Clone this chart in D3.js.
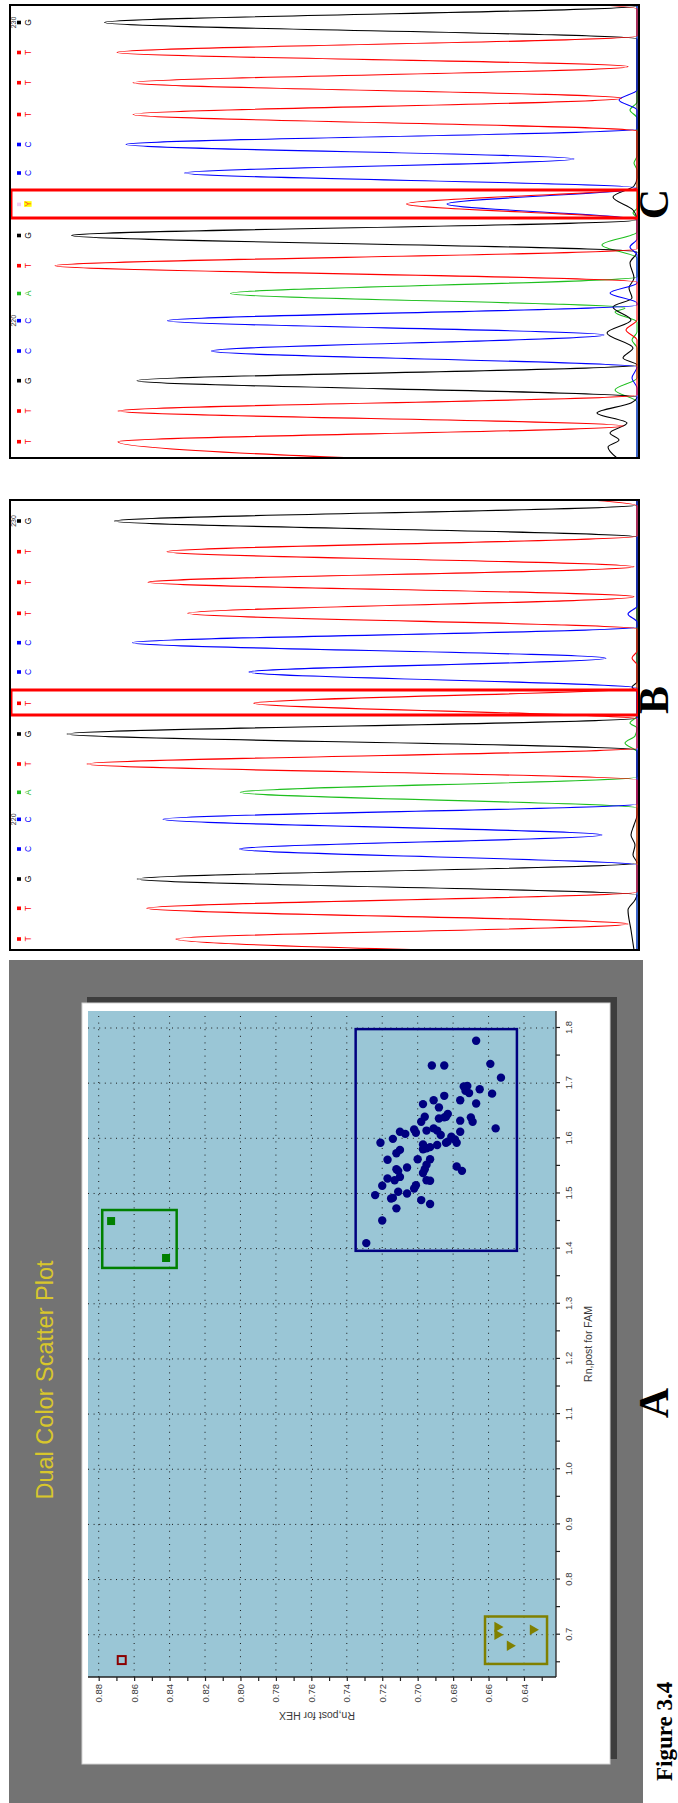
<!DOCTYPE html>
<html>
<head>
<meta charset="utf-8">
<script src="https://cdn.jsdelivr.net/npm/d3@7"></script>
<style>
body { margin: 0; background: #fff; }
svg { display: block; }
text { font-family: "Liberation Sans", Arial, sans-serif; }
text.serif { font-family: "Liberation Serif", "Times New Roman", serif; font-weight: bold; }
</style>
</head>
<body>
<svg id="fig" width="678" height="1803"></svg>
<script>
// ---------- panel A : dual colour scatter plot (Rn,post FAM vs HEX) ----------
const famTicks = [0.7, 0.8, 0.9, 1.0, 1.1, 1.2, 1.3, 1.4, 1.5, 1.6, 1.7, 1.8];
const famMinor = [0.65, 0.75, 0.85, 0.95, 1.05, 1.15, 1.25, 1.35, 1.45, 1.55, 1.65, 1.75];
const hexTicks = [0.64, 0.66, 0.68, 0.70, 0.72, 0.74, 0.76, 0.78, 0.80, 0.82, 0.84, 0.86, 0.88];
const hexMinor = [0.63, 0.65, 0.67, 0.69, 0.71, 0.73, 0.75, 0.77, 0.79, 0.81, 0.83, 0.85, 0.87];

// [FAM, HEX]
const allele1Pts = [
  [1.777,0.667],[1.732,0.692],[1.732,0.685],[1.735,0.659],[1.710,0.653],
  [1.694,0.674],[1.695,0.672],[1.686,0.673],[1.682,0.671],[1.689,0.665],
  [1.681,0.658],[1.677,0.685],[1.669,0.691],[1.669,0.676],[1.662,0.697],
  [1.663,0.667],[1.656,0.688],[1.639,0.696],[1.630,0.698],[1.636,0.688],
  [1.638,0.685],[1.644,0.683],[1.639,0.684],[1.632,0.676],[1.638,0.670],
  [1.630,0.669],[1.618,0.656],[1.612,0.710],[1.608,0.707],[1.616,0.702],
  [1.610,0.701],[1.614,0.695],[1.618,0.691],[1.614,0.689],[1.606,0.687],
  [1.612,0.676],[1.599,0.714],[1.592,0.721],[1.603,0.681],[1.598,0.679],
  [1.592,0.678],[1.592,0.684],[1.594,0.683],[1.589,0.697],[1.582,0.695],
  [1.584,0.693],[1.588,0.689],[1.580,0.697],[1.579,0.710],[1.573,0.712],
  [1.561,0.717],[1.562,0.700],[1.562,0.693],[1.547,0.706],[1.544,0.712],
  [1.552,0.695],[1.549,0.678],[1.541,0.675],[1.530,0.710],[1.527,0.717],
  [1.514,0.720],[1.524,0.713],[1.537,0.697],[1.524,0.695],[1.523,0.693],
  [1.515,0.701],[1.509,0.702],[1.503,0.711],[1.500,0.706],[1.497,0.724],
  [1.492,0.714],[1.491,0.715],[1.488,0.698],[1.481,0.693],[1.473,0.712],
  [1.451,0.720],[1.410,0.729],[1.544,0.696],[1.541,0.711]
];
const allele2Pts = [[1.450,0.873],[1.383,0.842]];
const undeterminedPts = [[0.714,0.655],[0.700,0.655],[0.680,0.648],[0.709,0.635]];
const ntcPts = [[0.654,0.867]];

// cluster boxes: [famMin, famMax, hexMin, hexMax]
const allele1Box = [1.396, 1.798, 0.644, 0.735];
const allele2Box = [1.365, 1.470, 0.836, 0.878];
const undetBox = [0.647, 0.733, 0.627, 0.662];

// ---------- panels B and C : sequence traces, [scan, signal] ----------
const bBases = ["T","T","G","C","C","A","T","G","T","C","C","T","T","T","G"];
const bBasePos = [11,41.7,71,101,130.7,157.7,186,216,246.7,278,307.3,336.7,367.7,398.3,429];
const bBaseNums = [[130.7,"220"],[429,"230"]];
const bHighlight = [235, 260];
const bTraceG = [[0,3],[20,6],[40,9],[50,2],[55,0],[71,499.8],[87,0],[95,4],[105,2],[115,6],[125,3],[135,0],[200,0],[216,570],[232,0],[258,0],[263,5],[268,0],[413,0],[429,522.7],[445,0],[453,0]];
const bTraceA = [[0,0],[142,0],[157.7,396.7],[173,0],[198,0],[207,12],[214,2],[222,0],[227,7],[234,0],[453,0]];
const bTraceT = [[-5,0],[11,461],[26,9],[41.7,490.3],[58,0],[170,0],[186,550],[202,0],[231,0],[246.7,383.3],[262,0],[285,0],[292,5],[299,0],[321,0],[336.7,449.3],[353.3,3],[367.7,489],[383.3,3],[398.3,470],[414,0],[444,0],[466,480]];
const bTraceC = [[0,0],[85,0],[101,397.6],[115,35],[130.7,474],[146,0],[262,0],[278,388],[291.7,31],[307.3,504.6],[323,0],[328,0],[336,9],[344,0],[453,0]];

const cBases = ["T","T","G","C","C","A","T","G","Y","C","C","T","T","T","G"];
const cBasePos = [16.3,47,77.3,107,137.3,164.5,192.3,222.5,254,285,313.5,343.5,375.3,405.5,435.5];
const cBaseNums = [[137.3,"220"],[435.5,"230"]];
const cHighlight = [240, 268];
const cTraceG = [[0,20],[11,29],[18,18],[25,27],[35,10],[45,40],[55,6],[61,0],[77.3,500],[93,0],[100,14],[110,4],[125,30],[138,6],[151,24],[160,5],[170,8],[180,3],[195,7],[206,0],[222.5,565.5],[238,0],[248,4],[261,24],[272,3],[280,0],[419,0],[435.5,532.5],[452,0],[460,0]];
const cTraceA = [[0,0],[56,0],[68,22],[80,0],[110,0],[118,5],[126,0],[136,0],[146,22],[150,12],[164.5,406.5],[181,0],[200,0],[213,35],[226,0],[240,0],[245,4],[250,0],[288,0],[295,3],[302,0],[340,0],[348,7],[356,0],[453,0]];
const cTraceT = [[-10,0],[16.3,519],[32,13.6],[47,519],[63,0],[118,0],[128,11],[138,0],[176,0],[192.3,582],[209,0],[238,0],[254,230.5],[270,0],[327,0],[343.5,504],[359.7,15.5],[375.3,504],[391.3,9],[405.5,520],[422,0],[449,0],[466,500]];
const cTraceC = [[0,0],[70,0],[80,5],[91,0],[107,425.6],[123,33],[137.3,469.6],[153,0],[155,0],[165,27],[175,0],[203,0],[211,7],[219,0],[238,0],[254,190],[270,0],[285,452.5],[299,63],[313.5,511],[329,0],[348,0],[358,18],[368,0],[453,0]];

const panelLetters = [["A", 400], ["B", 1103], ["C", 1599]];

const baseColor = { A: "#1fbf1f", C: "#0000ff", G: "#000000", T: "#ff0000", Y: "#ff4a2a" };

// the whole figure is laid out landscape and turned a quarter to the left
const svg = d3.select("#fig");
const g = svg.append("g").attr("transform", "translate(0,1803) rotate(-90)");

// ================= panel A =================
g.append("rect").attr("x", 0).attr("y", 9).attr("width", 843).attr("height", 634).attr("fill", "#737373");
g.append("rect").attr("x", 44).attr("y", 87).attr("width", 762).attr("height", 530).attr("fill", "#3d3d3d");
g.append("rect").attr("x", 39).attr("y", 82).attr("width", 761).attr("height", 528)
  .attr("fill", "#fff").attr("stroke", "#d4d4d4").attr("stroke-width", 1);

g.append("text").attr("x", 423).attr("y", 53).attr("text-anchor", "middle")
  .attr("font-size", 23.5).attr("fill", "#d8c62c").text("Dual Color Scatter Plot");

const plotL = 126, plotR = 792, plotT = 88, plotB = 556;
const fam = d3.scaleLinear().domain([0.7, 1.8]).range([168.3, 775]);
const hex = d3.scaleLinear().domain([0.64, 0.88]).range([524, 98.7]);

g.append("rect").attr("x", plotL).attr("y", plotT).attr("width", plotR - plotL).attr("height", plotB - plotT)
  .attr("fill", "#9ac6d6");

// dotted grid
g.append("g").selectAll("line").data(famTicks).join("line")
  .attr("x1", d => fam(d)).attr("x2", d => fam(d)).attr("y1", plotT).attr("y2", plotB)
  .attr("stroke", "#1a1a1a").attr("stroke-width", 1).attr("stroke-dasharray", "1,4.6");
g.append("g").selectAll("line").data(hexTicks).join("line")
  .attr("x1", plotL).attr("x2", plotR).attr("y1", d => hex(d)).attr("y2", d => hex(d))
  .attr("stroke", "#1a1a1a").attr("stroke-width", 1).attr("stroke-dasharray", "1,5.6");

// axes
function styleAxis(sel) {
  sel.select(".domain").remove();
  sel.selectAll(".tick line").attr("stroke", "#222").attr("stroke-width", 1.2);
  sel.selectAll(".tick text").attr("fill", "#3a3a3a").attr("font-size", 9.5);
}
g.append("g").attr("transform", `translate(0,${plotB})`)
  .call(d3.axisBottom(fam).tickValues(famMinor).tickSize(4).tickFormat(""))
  .call(styleAxis);
g.append("g").attr("transform", `translate(0,${plotB})`)
  .call(d3.axisBottom(fam).tickValues(famTicks).tickSize(4).tickPadding(5).tickFormat(d3.format(".1f")))
  .call(styleAxis);
g.append("g").attr("transform", `translate(${plotL},0)`)
  .call(d3.axisLeft(hex).tickValues(hexMinor).tickSize(4).tickFormat(""))
  .call(styleAxis);
g.append("g").attr("transform", `translate(${plotL},0)`)
  .call(d3.axisLeft(hex).tickValues(hexTicks).tickSize(4).tickPadding(3).tickFormat(d3.format(".2f")))
  .call(styleAxis);
g.append("line").attr("x1", plotL).attr("x2", plotR).attr("y1", plotB).attr("y2", plotB)
  .attr("stroke", "#222").attr("stroke-width", 1.3);
g.append("line").attr("x1", plotL).attr("x2", plotL).attr("y1", plotT).attr("y2", plotB)
  .attr("stroke", "#222").attr("stroke-width", 1.3);

g.append("text").attr("x", (plotL + plotR) / 2).attr("y", 592).attr("text-anchor", "middle")
  .attr("font-size", 10.5).attr("fill", "#3a3a3a").text("Rn,post for FAM");
g.append("text").attr("transform", "translate(91,317) rotate(-90)").attr("text-anchor", "middle")
  .attr("font-size", 10.5).attr("fill", "#3a3a3a").text("Rn,post for HEX");

// cluster boxes
function clusterBox(b, color) {
  g.append("rect").attr("x", fam(b[0])).attr("y", hex(b[3]))
    .attr("width", fam(b[1]) - fam(b[0])).attr("height", hex(b[2]) - hex(b[3]))
    .attr("fill", "none").attr("stroke", color).attr("stroke-width", 2.5);
}
clusterBox(allele1Box, "#000080");
clusterBox(allele2Box, "#008000");
clusterBox(undetBox, "#808000");

// markers
g.append("g").selectAll("circle").data(allele1Pts).join("circle")
  .attr("cx", d => fam(d[0])).attr("cy", d => hex(d[1])).attr("r", 4.2).attr("fill", "#000080");
g.append("g").selectAll("rect").data(allele2Pts).join("rect")
  .attr("x", d => fam(d[0]) - 4).attr("y", d => hex(d[1]) - 4).attr("width", 8).attr("height", 8)
  .attr("fill", "#008000");
g.append("g").selectAll("path").data(undeterminedPts).join("path")
  .attr("d", d3.symbol(d3.symbolTriangle, 48))
  .attr("transform", d => `translate(${fam(d[0])},${hex(d[1])}) rotate(180)`)
  .attr("fill", "#808000");
g.append("g").selectAll("rect").data(ntcPts).join("rect")
  .attr("x", d => fam(d[0]) - 4).attr("y", d => hex(d[1]) - 4).attr("width", 8).attr("height", 8)
  .attr("fill", "none").attr("stroke", "#8b0000").attr("stroke-width", 2);

// ================= panels B and C =================
const sig = d3.scaleLinear().domain([0, 627]).range([637, 10]);

function drawTrace(id, u0, u1, traces, bases, basePos, baseNums, hi) {
  const pos = d3.scaleLinear().domain([0, u1 - u0]).range([u0, u1]);
  const p = g.append("g");
  p.append("clipPath").attr("id", id).append("rect")
    .attr("x", u0).attr("y", 10).attr("width", u1 - u0).attr("height", 629);
  const line = d3.line().x(d => pos(d[0])).y(d => sig(d[1])).curve(d3.curveMonotoneX);
  const tg = p.append("g").attr("clip-path", `url(#${id})`);
  traces.forEach(t => {
    tg.append("path").attr("d", line(t.data)).attr("fill", "none")
      .attr("stroke", baseColor[t.base]).attr("stroke-width", 1.1);
  });

  // base calls
  bases.forEach((b, i) => {
    const x = pos(basePos[i]);
    if (b === "Y") {
      p.append("rect").attr("x", x - 2.2).attr("y", 17).attr("width", 3.6).attr("height", 4).attr("fill", "#f2cdf2");
      p.append("rect").attr("x", x - 2.8).attr("y", 24).attr("width", 5.6).attr("height", 7.6).attr("fill", "#ffff00");
    } else {
      p.append("rect").attr("x", x - 1.8).attr("y", 17).attr("width", 3.6).attr("height", 4).attr("fill", baseColor[b]);
    }
    p.append("text").attr("x", x).attr("y", 31).attr("text-anchor", "middle")
      .attr("font-size", 8.5).attr("fill", baseColor[b]).text(b);
  });
  baseNums.forEach(n => {
    p.append("text").attr("x", pos(n[0])).attr("y", 15.5).attr("text-anchor", "middle")
      .attr("font-size", 7).attr("fill", "#333").text(n[1]);
  });

  p.append("rect").attr("x", pos(hi[0])).attr("y", 11).attr("width", pos(hi[1]) - pos(hi[0])).attr("height", 627)
    .attr("fill", "none").attr("stroke", "#ff0000").attr("stroke-width", 3);
  p.append("rect").attr("x", u0).attr("y", 10).attr("width", u1 - u0).attr("height", 629)
    .attr("fill", "none").attr("stroke", "#000").attr("stroke-width", 2);
}

drawTrace("clipB", 853, 1303,
  [{ base: "A", data: bTraceA }, { base: "G", data: bTraceG }, { base: "C", data: bTraceC }, { base: "T", data: bTraceT }],
  bBases, bBasePos, bBaseNums, bHighlight);
drawTrace("clipC", 1345, 1798,
  [{ base: "A", data: cTraceA }, { base: "G", data: cTraceG }, { base: "C", data: cTraceC }, { base: "T", data: cTraceT }],
  cBases, cBasePos, cBaseNums, cHighlight);

// panel letters and figure caption
panelLetters.forEach(l => {
  g.append("text").attr("class", "serif").attr("x", l[1]).attr("y", 668).attr("text-anchor", "middle")
    .attr("font-size", 42).text(l[0]);
});
g.append("text").attr("class", "serif").attr("x", 22).attr("y", 672)
  .attr("font-size", 23).text("Figure 3.4");
</script>
</body>
</html>
